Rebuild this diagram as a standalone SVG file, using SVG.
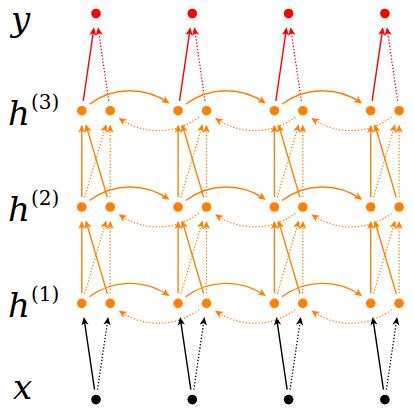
<svg xmlns="http://www.w3.org/2000/svg" width="414" height="413" viewBox="0 0 414 413">
<style>
.lbl{font-family:"DejaVu Serif","Liberation Serif",serif;font-style:italic;font-size:34px;fill:#000}
.sup{font-family:"DejaVu Serif","Liberation Serif",serif;font-style:normal;font-size:20px;fill:#000}
.o{fill:none;stroke:#ff8000;stroke-width:1.4;marker-end:url(#ao)}
.od{fill:none;stroke:#ff8000;stroke-width:1.3;stroke-dasharray:1.3 1.9;marker-end:url(#ao)}
.r{fill:none;stroke:#ff0000;stroke-width:1.4;marker-end:url(#ar)}
.rd{fill:none;stroke:#ff0000;stroke-width:1.3;stroke-dasharray:1.3 1.9;marker-end:url(#ar)}
.k{fill:none;stroke:#000;stroke-width:1.4;marker-end:url(#ak)}
.kd{fill:none;stroke:#000;stroke-width:1.3;stroke-dasharray:1.3 1.9;marker-end:url(#ak)}
.no{fill:#ff8000}
.nr{fill:#ff0000}
.nk{fill:#000}
</style>
<defs>
<marker id="ao" markerUnits="userSpaceOnUse" orient="auto" viewBox="-8 -5 10 10" markerWidth="10" markerHeight="10" refX="0" refY="0"><path d="M1.5,0 L-6.5,-3.6 L-4.5,0 L-6.5,3.6 Z" fill="#ff8000"/></marker>
<marker id="ar" markerUnits="userSpaceOnUse" orient="auto" viewBox="-8 -5 10 10" markerWidth="10" markerHeight="10" refX="0" refY="0"><path d="M1.5,0 L-6.5,-3.6 L-4.5,0 L-6.5,3.6 Z" fill="#ff0000"/></marker>
<marker id="ak" markerUnits="userSpaceOnUse" orient="auto" viewBox="-8 -5 10 10" markerWidth="10" markerHeight="10" refX="0" refY="0"><path d="M1.5,0 L-6.5,-3.6 L-4.5,0 L-6.5,3.6 Z" fill="#000"/></marker>
</defs>

<g id="labels">
<text class="lbl" x="11" y="31">y</text>
<text class="lbl" x="8" y="125">h</text><text class="sup" x="31" y="109">(3)</text>
<text class="lbl" x="8" y="221">h</text><text class="sup" x="31" y="205">(2)</text>
<text class="lbl" x="8" y="317">h</text><text class="sup" x="31" y="301">(1)</text>
<text class="lbl" x="13" y="399">x</text>
</g>

<g id="connectors">
<path class="k" d="M94.54,389.7 L84.06,318.6"/><path class="kd" d="M97.46,389.7 L107.94,318.6"/>
<path class="k" d="M190.84,389.7 L180.36,318.6"/><path class="kd" d="M193.76,389.7 L204.24,318.6"/>
<path class="k" d="M287.14,389.7 L276.66,318.6"/><path class="kd" d="M290.06,389.7 L300.54,318.6"/>
<path class="k" d="M383.44,389.7 L372.96,318.6"/><path class="kd" d="M386.36,389.7 L396.84,318.6"/>
<path class="o" d="M81.8,293.3 V222.5"/><path class="od" d="M110.2,293.3 V222.5"/>
<path class="o" d="M107.37,293.71 L86.18,221.87"/><path class="od" d="M84.63,293.71 L105.82,221.87"/>
<path class="o" d="M178.1,293.3 V222.5"/><path class="od" d="M206.5,293.3 V222.5"/>
<path class="o" d="M203.67,293.71 L182.48,221.87"/><path class="od" d="M180.93,293.71 L202.12,221.87"/>
<path class="o" d="M274.4,293.3 V222.5"/><path class="od" d="M302.8,293.3 V222.5"/>
<path class="o" d="M299.97,293.71 L278.78,221.87"/><path class="od" d="M277.23,293.71 L298.42,221.87"/>
<path class="o" d="M370.7,293.3 V222.5"/><path class="od" d="M399.1,293.3 V222.5"/>
<path class="o" d="M396.27,293.71 L375.08,221.87"/><path class="od" d="M373.53,293.71 L394.72,221.87"/>
<path class="o" d="M81.8,197 V126.2"/><path class="od" d="M110.2,197 V126.2"/>
<path class="o" d="M107.37,197.41 L86.18,125.57"/><path class="od" d="M84.63,197.41 L105.82,125.57"/>
<path class="o" d="M178.1,197 V126.2"/><path class="od" d="M206.5,197 V126.2"/>
<path class="o" d="M203.67,197.41 L182.48,125.57"/><path class="od" d="M180.93,197.41 L202.12,125.57"/>
<path class="o" d="M274.4,197 V126.2"/><path class="od" d="M302.8,197 V126.2"/>
<path class="o" d="M299.97,197.41 L278.78,125.57"/><path class="od" d="M277.23,197.41 L298.42,125.57"/>
<path class="o" d="M370.7,197 V126.2"/><path class="od" d="M399.1,197 V126.2"/>
<path class="o" d="M396.27,197.41 L375.08,125.57"/><path class="od" d="M373.53,197.41 L394.72,125.57"/>
<path class="r" d="M83.25,100.8 L93.76,28.8"/><path class="rd" d="M108.75,100.8 L98.24,28.8"/>
<path class="r" d="M179.55,100.8 L190.06,28.8"/><path class="rd" d="M205.05,100.8 L194.54,28.8"/>
<path class="r" d="M275.85,100.8 L286.36,28.8"/><path class="rd" d="M301.35,100.8 L290.84,28.8"/>
<path class="r" d="M372.15,100.8 L382.66,28.8"/><path class="rd" d="M397.65,100.8 L387.14,28.8"/>
<path class="o" d="M89.4,104.2 C112.7,86.8 144.5,86.3 168.3,102.6"/>
<path class="o" d="M185.7,104.2 C209,86.8 240.8,86.3 264.6,102.6"/>
<path class="o" d="M282,104.2 C305.3,86.8 337.1,86.3 360.9,102.6"/>
<path class="o" d="M89.4,200.5 C112.7,183.1 144.5,182.6 168.3,198.9"/>
<path class="o" d="M185.7,200.5 C209,183.1 240.8,182.6 264.6,198.9"/>
<path class="o" d="M282,200.5 C305.3,183.1 337.1,182.6 360.9,198.9"/>
<path class="o" d="M89.4,296.8 C112.7,279.4 144.5,278.9 168.3,295.2"/>
<path class="o" d="M185.7,296.8 C209,279.4 240.8,278.9 264.6,295.2"/>
<path class="o" d="M282,296.8 C305.3,279.4 337.1,278.9 360.9,295.2"/>
<path class="od" d="M198.9,117.2 C175.6,134.6 143.8,135.1 120,118.8"/>
<path class="od" d="M295.2,117.2 C271.9,134.6 240.1,135.1 216.3,118.8"/>
<path class="od" d="M391.5,117.2 C368.2,134.6 336.4,135.1 312.6,118.8"/>
<path class="od" d="M198.9,213.5 C175.6,230.9 143.8,231.4 120,215.1"/>
<path class="od" d="M295.2,213.5 C271.9,230.9 240.1,231.4 216.3,215.1"/>
<path class="od" d="M391.5,213.5 C368.2,230.9 336.4,231.4 312.6,215.1"/>
<path class="od" d="M198.9,309.8 C175.6,327.2 143.8,327.7 120,311.4"/>
<path class="od" d="M295.2,309.8 C271.9,327.2 240.1,327.7 216.3,311.4"/>
<path class="od" d="M391.5,309.8 C368.2,327.2 336.4,327.7 312.6,311.4"/>
</g>

<g id="y0"><circle class="nr" cx="96" cy="13.5" r="4.8"/></g>
<g id="y1"><circle class="nr" cx="192.3" cy="13.5" r="4.8"/></g>
<g id="y2"><circle class="nr" cx="288.6" cy="13.5" r="4.8"/></g>
<g id="y3"><circle class="nr" cx="384.9" cy="13.5" r="4.8"/></g>

<g id="h3f0"><circle class="no" cx="81.8" cy="110.7" r="4.8"/></g>
<g id="h3b0"><circle class="no" cx="110.2" cy="110.7" r="4.8"/></g>
<g id="h3f1"><circle class="no" cx="178.1" cy="110.7" r="4.8"/></g>
<g id="h3b1"><circle class="no" cx="206.5" cy="110.7" r="4.8"/></g>
<g id="h3f2"><circle class="no" cx="274.4" cy="110.7" r="4.8"/></g>
<g id="h3b2"><circle class="no" cx="302.8" cy="110.7" r="4.8"/></g>
<g id="h3f3"><circle class="no" cx="370.7" cy="110.7" r="4.8"/></g>
<g id="h3b3"><circle class="no" cx="399.1" cy="110.7" r="4.8"/></g>

<g id="h2f0"><circle class="no" cx="81.8" cy="207" r="4.8"/></g>
<g id="h2b0"><circle class="no" cx="110.2" cy="207" r="4.8"/></g>
<g id="h2f1"><circle class="no" cx="178.1" cy="207" r="4.8"/></g>
<g id="h2b1"><circle class="no" cx="206.5" cy="207" r="4.8"/></g>
<g id="h2f2"><circle class="no" cx="274.4" cy="207" r="4.8"/></g>
<g id="h2b2"><circle class="no" cx="302.8" cy="207" r="4.8"/></g>
<g id="h2f3"><circle class="no" cx="370.7" cy="207" r="4.8"/></g>
<g id="h2b3"><circle class="no" cx="399.1" cy="207" r="4.8"/></g>

<g id="h1f0"><circle class="no" cx="81.8" cy="303.3" r="4.8"/></g>
<g id="h1b0"><circle class="no" cx="110.2" cy="303.3" r="4.8"/></g>
<g id="h1f1"><circle class="no" cx="178.1" cy="303.3" r="4.8"/></g>
<g id="h1b1"><circle class="no" cx="206.5" cy="303.3" r="4.8"/></g>
<g id="h1f2"><circle class="no" cx="274.4" cy="303.3" r="4.8"/></g>
<g id="h1b2"><circle class="no" cx="302.8" cy="303.3" r="4.8"/></g>
<g id="h1f3"><circle class="no" cx="370.7" cy="303.3" r="4.8"/></g>
<g id="h1b3"><circle class="no" cx="399.1" cy="303.3" r="4.8"/></g>

<g id="x0"><circle class="nk" cx="96" cy="399.6" r="4.8"/></g>
<g id="x1"><circle class="nk" cx="192.3" cy="399.6" r="4.8"/></g>
<g id="x2"><circle class="nk" cx="288.6" cy="399.6" r="4.8"/></g>
<g id="x3"><circle class="nk" cx="384.9" cy="399.6" r="4.8"/></g>
</svg>
